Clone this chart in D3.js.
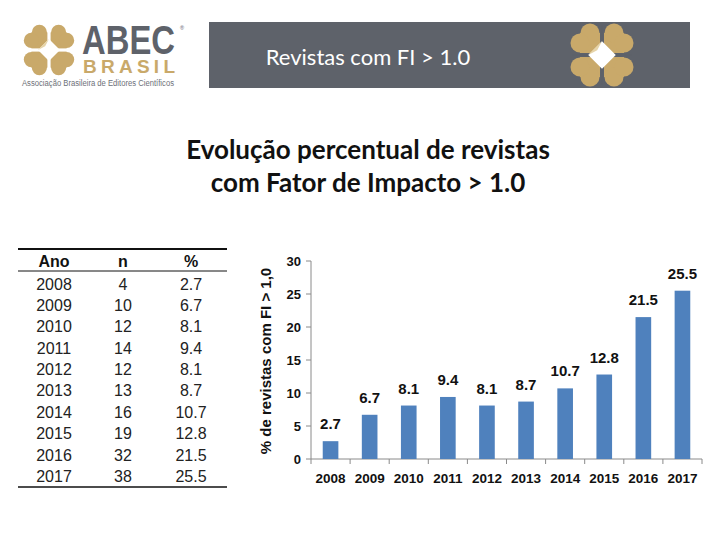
<!DOCTYPE html>
<html lang="pt">
<head>
    <meta charset="UTF-8">
    <script src="https://d3js.org/d3.v7.min.js"></script>
    <style>
        body {
            margin: 0;
            background: #fff;
        }
        svg text {
            font-family: "Liberation Sans", Arial, sans-serif;
        }
    </style>
    <title>Revistas com FI > 1.0</title>
</head>
<body>
<svg id="chart" width="720" height="540"></svg>
<script>
    // dados
    var years = ["2008", "2009", "2010", "2011", "2012", "2013", "2014", "2015", "2016", "2017"]
    var counts = [4, 10, 12, 14, 12, 13, 16, 19, 32, 38]
    var percents = [2.7, 6.7, 8.1, 9.4, 8.1, 8.7, 10.7, 12.8, 21.5, 25.5]
    var yTicks = [0, 5, 10, 15, 20, 25, 30]

    var gold = "#c9a96a"
    var slate = "#5e626a"

    var svg = d3.select("#chart")

    // desenha o emblema da ABEC (quatro corações em volta de um losango)
    function emblem(g, cx, cy, half, bg) {
        var u = half / 1.2
        var e = g.append("g").attr("transform", "translate(" + cx + "," + cy + ")")
        var quads = [[-1, -1], [1, -1], [1, 1], [-1, 1]]
        quads.forEach(function (q) {
            var sx = q[0], sy = q[1]
            var a = 0.8 * u, inner = 0.08 * u
            var x0 = sx < 0 ? -inner - a : inner
            var y0 = sy < 0 ? -inner - a : inner
            e.append("rect").attr("x", x0).attr("y", y0)
                .attr("width", a).attr("height", a).attr("fill", gold)
            // lóbulos externos
            e.append("circle")
                .attr("cx", sx * (inner + a / 2)).attr("cy", sy * (inner + a))
                .attr("r", a / 2 * 0.95).attr("fill", gold)
            e.append("circle")
                .attr("cx", sx * (inner + a)).attr("cy", sy * (inner + a / 2))
                .attr("r", a / 2 * 0.95).attr("fill", gold)
        })
        // cruz de separação
        e.append("line").attr("x1", 0).attr("x2", 0).attr("y1", -half).attr("y2", half)
            .attr("stroke", bg).attr("stroke-width", 1.5)
        e.append("line").attr("y1", 0).attr("y2", 0).attr("x1", -half).attr("x2", half)
            .attr("stroke", bg).attr("stroke-width", 1.5)
        var d = 0.55 * u
        e.append("path")
            .attr("d", "M0," + (-d) + "L" + d + ",0L0," + d + "L" + (-d) + ",0Z")
            .attr("fill", "#fff")
        e.append("path")
            .attr("d", "M0," + (-d) + "L" + (-d) + ",0L" + (-d * 0.35) + "," + (-d * 0.35) + "Z")
            .attr("fill", "#e6d4a8")
    }

    // ---- cabeçalho ----
    var logo = svg.append("g")
    emblem(logo, 49, 50, 24, "#fff")
    logo.append("text").attr("x", 82).attr("y", 54)
        .attr("textLength", 93).attr("lengthAdjust", "spacingAndGlyphs")
        .style("font-size", "40px").style("font-weight", "bold").attr("fill", slate)
        .text("ABEC")
    logo.append("text").attr("x", 180).attr("y", 30)
        .style("font-size", "5.5px").attr("fill", slate).text("®")
    logo.append("text").attr("x", 83).attr("y", 73)
        .attr("textLength", 92).attr("lengthAdjust", "spacing")
        .style("font-size", "19px").style("font-weight", "bold").attr("fill", gold)
        .text("BRASIL")
    logo.append("text").attr("x", 22).attr("y", 86)
        .attr("textLength", 152).attr("lengthAdjust", "spacingAndGlyphs")
        .style("font-size", "8.5px").attr("fill", "#6d7078")
        .text("Associação Brasileira de Editores Científicos")

    svg.append("rect").attr("x", 209).attr("y", 22).attr("width", 481).attr("height", 66)
        .attr("fill", slate)
    svg.append("text").attr("x", 368).attr("y", 65).attr("text-anchor", "middle")
        .style("font-family", "Lato, 'Open Sans', sans-serif").style("font-size", "22px")
        .attr("fill", "#fff").text("Revistas com FI > 1.0")
    emblem(svg.append("g"), 602, 55, 30, slate)

    // ---- título ----
    var titleLines = ["Evolução percentual de revistas", "com Fator de Impacto > 1.0"]
    svg.append("g").selectAll("text")
        .data(titleLines)
        .enter()
        .append("text")
        .attr("x", 368)
        .attr("y", function (d, i) { return 159 + i * 33 })
        .attr("text-anchor", "middle")
        .style("font-family", "Lato, 'Open Sans', sans-serif")
        .style("font-size", "26px").style("font-weight", "bold")
        .attr("fill", "#111")
        .text(function (d) { return d })

    // ---- tabela ----
    var table = svg.append("g")
    var colX = [54, 123, 191]
    var rowY = d3.scaleLinear().domain([0, 9]).range([289.5, 482])
    table.append("line").attr("x1", 18).attr("x2", 227).attr("y1", 249).attr("y2", 249)
        .attr("stroke", "#111").attr("stroke-width", 2.2)
    table.append("line").attr("x1", 18).attr("x2", 227).attr("y1", 271).attr("y2", 271)
        .attr("stroke", "#111").attr("stroke-width", 1)
    table.append("line").attr("x1", 18).attr("x2", 227).attr("y1", 487).attr("y2", 487)
        .attr("stroke", "#111").attr("stroke-width", 1.6)
    table.selectAll(".head")
        .data(["Ano", "n", "%"])
        .enter()
        .append("text")
        .attr("x", function (d, i) { return colX[i] })
        .attr("y", 267)
        .attr("text-anchor", "middle")
        .style("font-size", "16px").style("font-weight", "bold")
        .attr("fill", "#111")
        .text(function (d) { return d })
    var rows = table.selectAll(".row")
        .data(years)
        .enter()
        .append("g")
        .attr("transform", function (d, i) { return "translate(0," + rowY(i) + ")" })
    rows.selectAll("text")
        .data(function (d, i) { return [d, counts[i], percents[i].toFixed(1)] })
        .enter()
        .append("text")
        .attr("x", function (d, i) { return colX[i] })
        .attr("text-anchor", "middle")
        .style("font-size", "16px")
        .attr("fill", "#222")
        .text(function (d) { return d })

    // ---- gráfico de barras ----
    var x = d3.scaleBand().domain(years).range([311, 702]).paddingInner(0.6).paddingOuter(0.3)
    var y = d3.scaleLinear().domain([0, 30]).range([459, 261])
    var axisColor = "#8a8a8a"

    var chart = svg.append("g")
    chart.append("line").attr("x1", 311).attr("x2", 311).attr("y1", y(0)).attr("y2", y(30))
        .attr("stroke", axisColor)
    chart.selectAll(".ytick")
        .data(yTicks)
        .enter()
        .append("line")
        .attr("x1", 306).attr("x2", 311)
        .attr("y1", function (d) { return y(d) }).attr("y2", function (d) { return y(d) })
        .attr("stroke", axisColor)
    chart.selectAll(".ylab")
        .data(yTicks)
        .enter()
        .append("text")
        .attr("x", 301)
        .attr("y", function (d) { return y(d) + 4.5 })
        .attr("text-anchor", "end")
        .style("font-size", "13px").style("font-weight", "bold")
        .attr("fill", "#111")
        .text(function (d) { return d })

    chart.append("line").attr("x1", 311).attr("x2", 702).attr("y1", y(0)).attr("y2", y(0))
        .attr("stroke", axisColor)
    chart.selectAll(".xtick")
        .data(d3.range(years.length + 1))
        .enter()
        .append("line")
        .attr("x1", function (i) { return 311 + i * x.step() })
        .attr("x2", function (i) { return 311 + i * x.step() })
        .attr("y1", y(0)).attr("y2", y(0) + 5)
        .attr("stroke", axisColor)
    chart.selectAll(".xlab")
        .data(years)
        .enter()
        .append("text")
        .attr("x", function (d) { return x(d) + x.bandwidth() / 2 })
        .attr("y", 483)
        .attr("text-anchor", "middle")
        .style("font-size", "13.5px").style("font-weight", "bold")
        .attr("fill", "#111")
        .text(function (d) { return d })

    chart.selectAll(".bar")
        .data(years)
        .enter()
        .append("rect")
        .attr("x", function (d) { return x(d) })
        .attr("y", function (d, i) { return y(percents[i]) })
        .attr("width", x.bandwidth())
        .attr("height", function (d, i) { return y(0) - y(percents[i]) })
        .attr("fill", "#4f81bd")
    chart.selectAll(".blab")
        .data(years)
        .enter()
        .append("text")
        .attr("x", function (d) { return x(d) + x.bandwidth() / 2 })
        .attr("y", function (d, i) { return y(percents[i]) - 12 })
        .attr("text-anchor", "middle")
        .style("font-size", "15px").style("font-weight", "bold")
        .attr("fill", "#111")
        .text(function (d, i) { return percents[i].toFixed(1) })

    svg.append("text")
        .attr("transform", "translate(271,361) rotate(-90)")
        .attr("text-anchor", "middle")
        .style("font-size", "15px").style("font-weight", "bold")
        .attr("fill", "#111")
        .text("% de revistas com FI > 1,0")
</script>
</body>
</html>
